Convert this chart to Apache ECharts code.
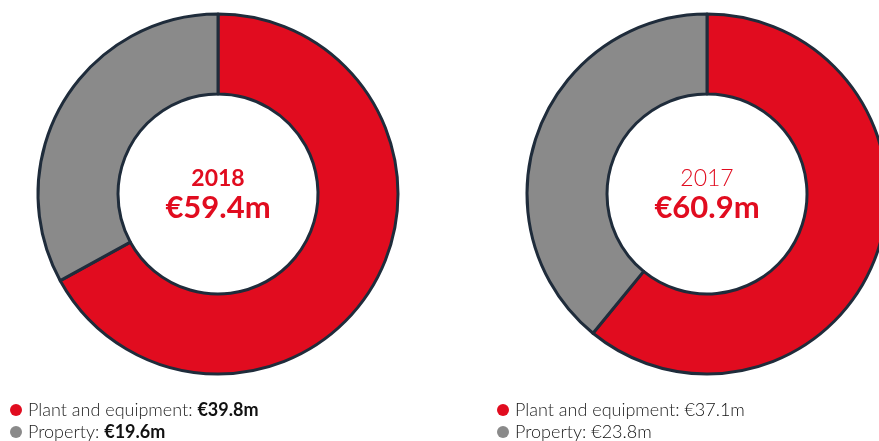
<!DOCTYPE html>
<html><head><meta charset="utf-8">
<script src="https://cdn.jsdelivr.net/npm/echarts@6/dist/echarts.min.js"></script>
<style>html,body{margin:0;padding:0;background:#fff}#c{width:879px;height:441px}</style>
</head><body><div id="c"></div>
<script>
const categories = ['Plant and equipment', 'Property'];
const values2018 = [39.8, 19.6];
const values2017 = [37.1, 23.8];
const totals = ['€59.4m', '€60.9m'];
const years = ['2018', '2017'];
const colors = ['#e10c1f', '#8a8a8a'];

const chart = echarts.init(document.getElementById('c'), null, {renderer: 'canvas'});
const border = '#1f2c3b';
const font = 'Lato, "Open Sans", sans-serif';

function pie(vals, cx) {
  return {
    type: 'pie', center: [cx, 194], radius: [100, 180], startAngle: 90, clockwise: true,
    label: {show: false}, labelLine: {show: false}, silent: true,
    emphasis: {disabled: true},
    itemStyle: {borderColor: border, borderWidth: 3},
    data: vals.map((v, i) => ({name: categories[i], value: v, itemStyle: {color: colors[i]}}))
  };
}

function legend(x, vals, boldVals) {
  const els = [];
  vals.forEach((v, i) => {
    const y = 410 + i * 22;
    els.push({type: 'circle', shape: {cx: x, cy: y, r: 6}, style: {fill: colors[i]}});
    els.push({type: 'text', x: x + 12, y: y, style: {
      text: '{a|' + categories[i] + ': }{b|€' + v.toFixed(1) + 'm}',
      verticalAlign: 'middle', textVerticalAlign: 'middle',
      rich: {
        a: {fontFamily: font, fontSize: 18, fontWeight: 300, fill: '#222'},
        b: {fontFamily: font, fontSize: 18, fontWeight: boldVals ? 'bold' : 300, fill: '#111'}
      }
    }});
  });
  return els;
}

function center(cx, year, total, boldYear) {
  return [
    {type: 'text', x: cx, y: 179, style: {text: year, fontFamily: font, fontSize: 23,
      fontWeight: boldYear ? 'bold' : 300, fill: '#e10c1f', align: 'center', verticalAlign: 'middle'}},
    {type: 'text', x: cx, y: 208, style: {text: total, fontFamily: font, fontSize: 31,
      fontWeight: 'bold', fill: '#e10c1f', align: 'center', verticalAlign: 'middle'}}
  ];
}

chart.setOption({
  animation: false,
  series: [pie(values2018, 218), pie(values2017, 707)],
  graphic: [].concat(
    center(218, years[0], totals[0], true),
    center(707, years[1], totals[1], false),
    legend(16, values2018, true),
    legend(503, values2017, false)
  )
});
</script></body></html>
